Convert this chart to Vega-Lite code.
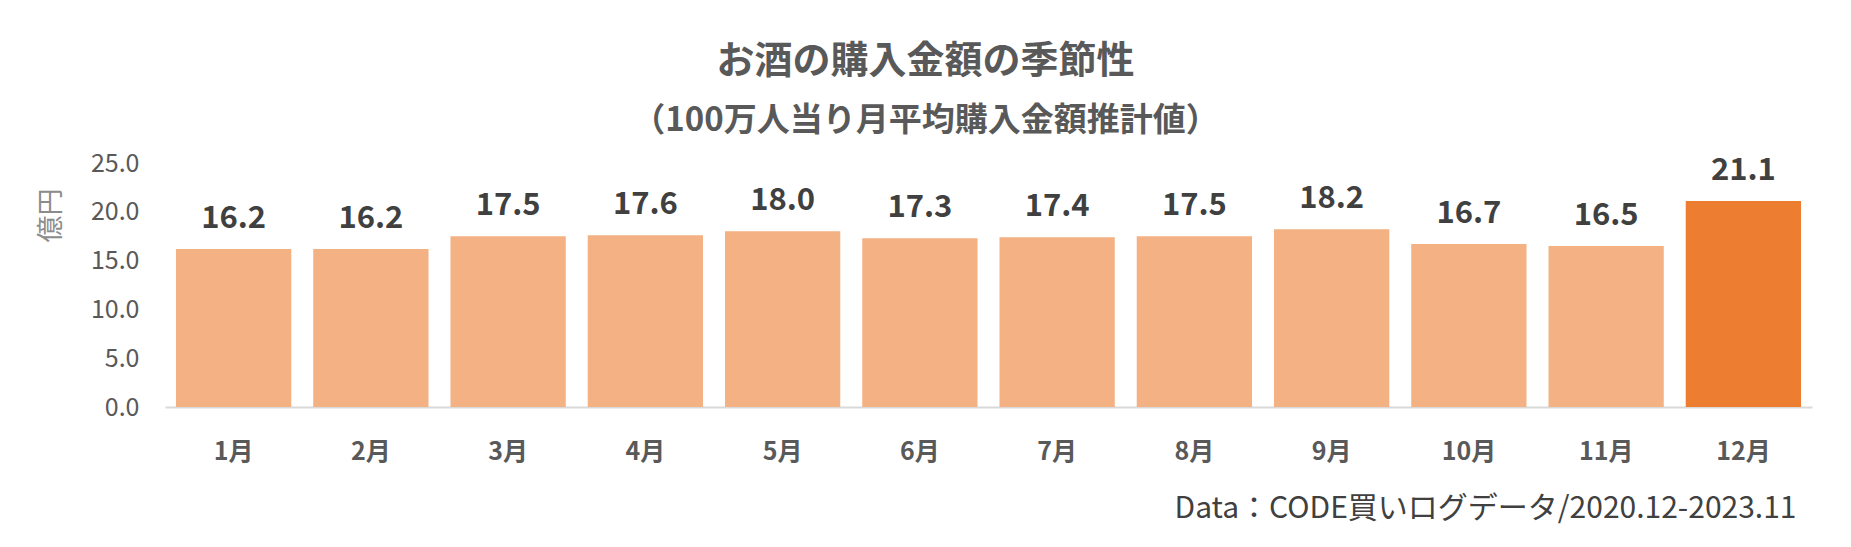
{
  "$schema": "https://vega.github.io/schema/vega-lite/v6.json",
  "autosize": {"type": "none"},
  "width": 1647,
  "height": 244,
  "padding": {"left": 165, "top": 163, "right": 39, "bottom": 140},
  "background": "white",
  "config": {
    "font": "Noto Sans CJK JP",
    "view": {"stroke": null}
  },
  "title": {
    "text": "お酒の購入金額の季節性",
    "subtitle": "（100万人当り月平均購入金額推計値）",
    "anchor": "middle",
    "frame": "group",
    "dx": -63,
    "offset": 13,
    "fontSize": 38,
    "fontWeight": "bold",
    "color": "#595959",
    "subtitleFontSize": 33,
    "subtitleFontWeight": "bold",
    "subtitleColor": "#595959",
    "subtitlePadding": 24
  },
  "data": {
    "values": [
      {"month": "1月", "amount": 16.2},
      {"month": "2月", "amount": 16.2},
      {"month": "3月", "amount": 17.5},
      {"month": "4月", "amount": 17.6},
      {"month": "5月", "amount": 18.0},
      {"month": "6月", "amount": 17.3},
      {"month": "7月", "amount": 17.4},
      {"month": "8月", "amount": 17.5},
      {"month": "9月", "amount": 18.2},
      {"month": "10月", "amount": 16.7},
      {"month": "11月", "amount": 16.5},
      {"month": "12月", "amount": 21.1}
    ]
  },
  "encoding": {
    "x": {
      "field": "month",
      "type": "nominal",
      "sort": null,
      "scale": {"paddingInner": 0.16, "paddingOuter": 0.08},
      "axis": {
        "title": "Data：CODE買いログデータ/2020.12-2023.11",
        "titleFontSize": 30,
        "titleFontWeight": "normal",
        "titleColor": "#404040",
        "titleAlign": "right",
        "titleBaseline": "middle",
        "titleAnchor": null,
        "titleX": 1631,
        "titleY": 101,
        "labelAngle": 0,
        "labelFontSize": 25,
        "labelFontWeight": "bold",
        "labelColor": "#595959",
        "labelPadding": 32,
        "ticks": false,
        "domainColor": "#d9d9d9",
        "domainWidth": 2
      }
    },
    "y": {
      "field": "amount",
      "type": "quantitative",
      "scale": {"domain": [0, 25]},
      "axis": {
        "title": "億円",
        "titleFontSize": 27,
        "titleFontWeight": "normal",
        "titleColor": "#8c8c8c",
        "titleAngle": -90,
        "titleAlign": "center",
        "titleBaseline": "middle",
        "titleAnchor": null,
        "titleX": -114,
        "titleY": 52,
        "values": [0, 5, 10, 15, 20, 25],
        "format": ".1f",
        "labelFontSize": 25,
        "labelColor": "#595959",
        "labelPadding": 26,
        "ticks": false,
        "domain": false,
        "grid": false
      }
    }
  },
  "layer": [
    {
      "mark": {"type": "bar"},
      "encoding": {
        "color": {
          "condition": {"test": "datum.month === '12月'", "value": "#ED7D31"},
          "value": "#F4B183"
        }
      }
    },
    {
      "mark": {"type": "text", "baseline": "bottom", "dy": -14, "fontSize": 31, "fontWeight": "bold", "color": "#404040"},
      "encoding": {
        "text": {"field": "amount", "type": "quantitative", "format": ".1f"}
      }
    }
  ]
}
